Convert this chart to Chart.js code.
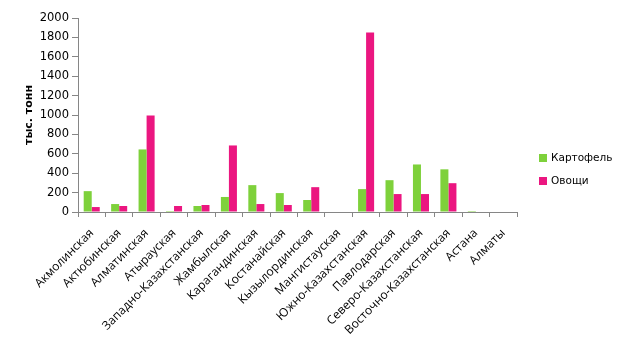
<!DOCTYPE html>
<html>
<head>
<meta charset="utf-8">
<script src="https://cdn.jsdelivr.net/npm/chart.js@4/dist/chart.umd.min.js"></script>
<style>
  html, body { margin: 0; padding: 0; background: #fff; }
  #wrap { position: relative; width: 626px; height: 340px; }
  #legend { position: absolute; left: 539px; top: 151px; font: 10.5px "DejaVu Sans", sans-serif; color: #000; }
  #legend div { height: 23px; display: flex; align-items: flex-start; }
  #legend span.box { display: inline-block; width: 8px; height: 8px; margin: 3px 4px 0 0; }
</style>
</head>
<body>
<div id="wrap">
  <canvas id="prodChart" width="626" height="340"></canvas>
  <div id="legend"></div>
</div>
<script>
// Regions
const regions = [
  "Акмолинская", "Актюбинская", "Алматинская", "Атырауская",
  "Западно-Казахстанская", "Жамбылская", "Карагандинская", "Костанайская",
  "Кызылординская", "Мангистауская", "Южно-Казахстанская", "Павлодарская",
  "Северо-Казахстанская", "Восточно-Казахстанская", "Астана", "Алматы"
];

// thousand tonnes
const potatoes = [215, 82, 645, 10, 62, 155, 277, 195, 124, 0, 236, 328, 490, 440, 10, 0];
const vegetables = [51, 62, 995, 62, 72, 686, 82, 72, 256, 0, 1850, 185, 185, 297, 0, 0];

const yTicks = [0, 200, 400, 600, 800, 1000, 1200, 1400, 1600, 1800, 2000];

const axisColor = "#868686";

const ctx = document.getElementById("prodChart").getContext("2d");

const chart = new Chart(ctx, {
  type: "bar",
  data: {
    labels: regions,
    datasets: [
      { label: "Картофель", data: potatoes, backgroundColor: "#7ED13B" },
      { label: "Овощи", data: vegetables, backgroundColor: "#EB1680" }
    ]
  },
  options: {
    responsive: false,
    animation: false,
    layout: { padding: { top: 18, right: 109, left: 20, bottom: 0 } },
    datasets: { bar: { barPercentage: 1, categoryPercentage: 0.585 } },
    plugins: {
      legend: { display: false },
      tooltip: { enabled: false }
    },
    scales: {
      x: {
        grid: { drawOnChartArea: false, drawTicks: true, tickLength: 5, color: axisColor, offset: true },
        border: { color: axisColor },
        ticks: {
          color: "#000",
          font: { family: "Open Sans", size: 12 },
          maxRotation: 45,
          minRotation: 45,
          autoSkip: false,
          padding: 9
        },
        afterFit: (s) => { s.height = 128; }
      },
      y: {
        min: 0,
        max: 2000,
        afterBuildTicks: (s) => { s.ticks = yTicks.map((v) => ({ value: v })); },
        grid: { drawOnChartArea: false, drawTicks: true, tickLength: 6, color: axisColor },
        border: { color: axisColor },
        ticks: {
          color: "#000",
          font: { family: "DejaVu Sans", size: 11.5 },
          padding: 3,
          callback: (v) => String(v)
        },
        title: {
          display: true,
          text: "тыс. тонн",
          color: "#000",
          font: { family: "DejaVu Sans", size: 11, weight: "bold" },
          padding: { top: 3, bottom: 0 }
        },
        afterFit: (s) => { s.width = 58; }
      }
    }
  }
});

// legend built from the datasets
const legendEl = document.getElementById("legend");
chart.data.datasets.forEach((ds) => {
  const row = document.createElement("div");
  const box = document.createElement("span");
  box.className = "box";
  box.style.background = ds.backgroundColor;
  row.appendChild(box);
  row.appendChild(document.createTextNode(ds.label));
  legendEl.appendChild(row);
});
</script>
</body>
</html>
